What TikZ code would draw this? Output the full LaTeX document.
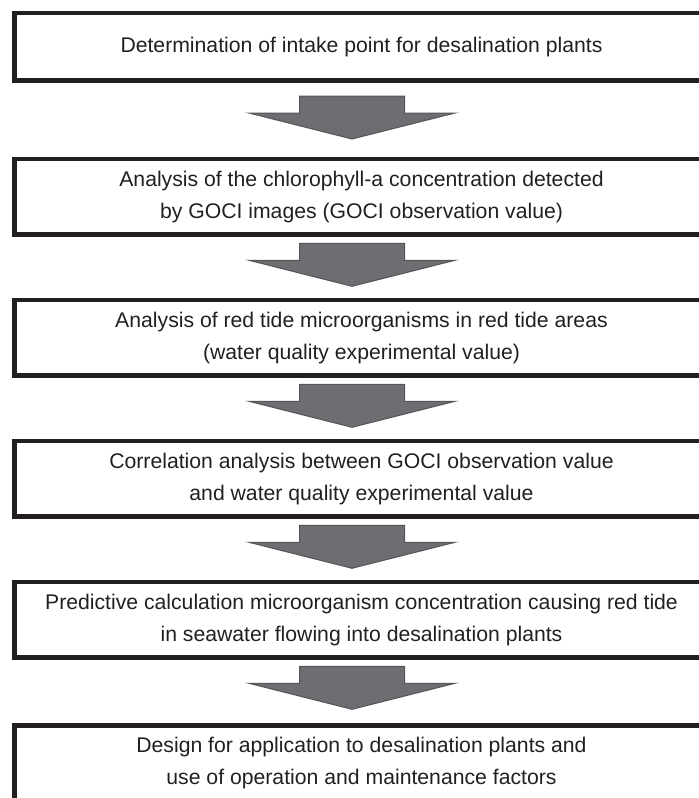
\documentclass[tikz,border=0pt]{standalone}
\usepackage{fontspec}
\setmainfont{Liberation Sans}
\usetikzlibrary{positioning}
\definecolor{inkdark}{RGB}{35,31,32}
\definecolor{arrowgray}{RGB}{109,110,114}
\definecolor{arrowedge}{RGB}{84,85,88}
\begin{document}
\begin{tikzpicture}[
  node distance=30.5pt, font={\fontsize{10.6pt}{16pt}\selectfont}, text=inkdark,
  stepbox/.style={draw=inkdark,line width=2.2pt,inner sep=0pt,align=center,
    minimum width=347pt,minimum height=37.8pt},
  fat/.pic={\draw[fill=arrowgray,draw=arrowedge,line width=0.5pt]
    (-26.25pt,0) -- (26.25pt,0) -- (26.25pt,-8.5pt) -- (51.5pt,-8.5pt) -- (0,-21.5pt)
    -- (-51.5pt,-8.5pt) -- (-26.25pt,-8.5pt) -- cycle;}]
\path[use as bounding box] (0,0) rectangle (349.5pt,-399pt);
\clip (0,0) rectangle (349.5pt,-399pt);
\node[stepbox,minimum height=33.8pt] (intake) at (180.75pt,-23.35pt) {Determination of intake point for desalination plants};
\node[stepbox,below=37pt of intake] (chla) {Analysis of the chlorophyll-a concentration detected\\by GOCI images (GOCI observation value)};
\node[stepbox,below=of chla] (redtide) {Analysis of red tide microorganisms in red tide areas\\(water quality experimental value)};
\node[stepbox,below=of redtide] (corr) {Correlation analysis between GOCI observation value\\and water quality experimental value};
\node[stepbox,below=of corr] (predict) {Predictive calculation microorganism concentration causing red tide\\in seawater flowing into desalination plants};
\node[stepbox,below=31.7pt of predict] (design) {Design for application to desalination plants and\\use of operation and maintenance factors};
% block arrows between the steps
\pic at ([xshift=-4.75pt,yshift=-6.65pt]intake.south) {fat};
\pic at ([xshift=-4.75pt,yshift=-3.3pt]chla.south) {fat};
\pic at ([xshift=-4.75pt,yshift=-3.3pt]redtide.south) {fat};
\pic at ([xshift=-4.75pt,yshift=-3.3pt]corr.south) {fat};
\pic at ([xshift=-4.75pt,yshift=-3.3pt]predict.south) {fat};
\end{tikzpicture}
\end{document}
